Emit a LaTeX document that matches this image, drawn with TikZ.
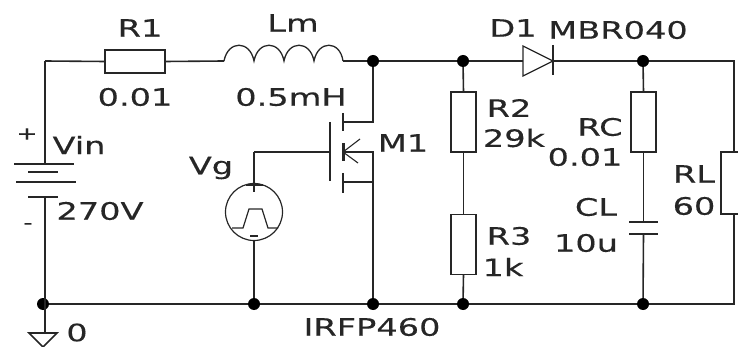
\documentclass[tikz,border=0pt]{standalone}
\usepackage{fontspec}
\setmainfont[FakeStretch=1.4,FakeBold=0.25]{DejaVu Sans}
\begin{document}
\begin{tikzpicture}[x=1pt,y=-1pt,line join=miter,
  wire/.style={draw=black!85,line width=1.6pt},
  part/.style={wire,rectangle,inner sep=0pt,outer sep=0pt,fill=white},
  hres/.style={part,minimum width=60pt,minimum height=23pt},
  vres/.style={part,minimum width=25pt,minimum height=60pt},
  dot/.style={circle,fill=black,inner sep=0pt,outer sep=0pt,minimum size=12pt},
  lab/.style={inner sep=0pt,outer sep=0pt,text=black!85,font=\fontsize{24}{24}\selectfont},
  small/.style={inner sep=0pt,outer sep=0pt,text=black!85,font=\fontsize{18}{18}\selectfont}]
\useasboundingbox (0,0) rectangle (738,347);
% anchors
\coordinate (tl) at (45,61);
\coordinate (tr) at (734,61);
\coordinate (br) at (734,304);
\node[dot] (jb1) at (43,304) {};
\node[dot] (jb2) at (254,304) {};
\node[dot] (jb3) at (373,304) {};
\node[dot] (jb4) at (463,304) {};
\node[dot] (jb5) at (643,304) {};
\node[dot] (jt1) at (373,61) {};
\node[dot] (jt2) at (463,61) {};
\node[dot] (jt3) at (643,61) {};
% resistors
\node[hres] (R1) at (135,61.5) {};
\node[vres] (R2) at (463.5,122) {};
\node[vres] (R3) at (463.5,244.5) {};
\node[vres] (RC) at (643.5,122) {};
% wires: top and bottom rails
\draw[wire] (tl) -- (R1.west);
\coordinate (Lin) at (224,61);
\coordinate (Lout) at (343,61);
\draw[wire] (R1.east) -- (Lin);
\draw[wire,line width=1.3pt] (Lin) .. controls (228,40) and (250,40) .. (254,61)
  .. controls (258,40) and (280,40) .. (284,61)
  .. controls (288,40) and (310,40) .. (314,61)
  .. controls (318,40) and (340,40) .. (343,61);
\draw[wire] (Lout) -- (jt1);
\draw[wire] (jt1) -- (jt2);
\coordinate (Da) at (523,61);
\coordinate (Dk) at (553,61);
\draw[wire] (jt2) -- (Da);
\draw[wire,line width=1.2pt] (Da) -- (523,46) -- (Dk) -- (523,76) -- cycle;
\draw[wire] (553,45) -- (553,75);
\draw[wire] (Dk) -- (jt3);
\draw[wire] (jt3) -- (tr) -- (734,152);
\draw[wire] (738,152) -- (721,152) -- (721,214) -- (738,214);
\draw[wire] (734,214) -- (br) -- (jb5);
\draw[wire] (jb1) -- (jb2);
\draw[wire] (jb2) -- (jb3);
\draw[wire] (jb3) -- (jb4);
\draw[wire] (jb4) -- (jb5);
% branches
\draw[wire] (jt2) -- (R2.north);
\draw[wire] (R2.south) -- (R3.north);
\draw[wire] (R3.south) -- (jb4);
\draw[wire] (jt3) -- (RC.north);
\coordinate (Cp) at (643.5,222);
\coordinate (Cn) at (643.5,234);
\draw[wire] (RC.south) -- (Cp);
\draw[wire] (629,222) -- (658,222);
\draw[wire] (629,234) -- (658,234);
\draw[wire] (Cn) -- (jb5);
% battery
\coordinate (Bp) at (45,164);
\coordinate (Bn) at (45,197);
\draw[wire] (tl) -- (Bp);
\draw[wire] (14,164) -- (74,164);
\draw[wire] (28,172) -- (58,172);
\draw[wire] (16,182) -- (76,182);
\draw[wire] (28,197) -- (58,197);
\draw[wire] (Bn) -- (45,304);
\node[small] (bplus) at (27,134) {+};
\node[small] (bminus) at (28,226) {-};
% ground
\coordinate (G) at (45,333);
\draw[wire] (45,304) -- (G);
\draw[wire] (29,333) -- (57,333) -- (43,347) -- cycle;
% MOSFET
\coordinate (Gate) at (330,152);
\coordinate (Vgt) at (254,152);
\draw[wire] (330,122) -- (330,181);
\draw[wire] (343,113) -- (343,131);
\draw[line width=3pt,black!85] (343,143) -- (343,161);
\draw[wire] (343,173) -- (343,193);
\draw[wire] (343,122) -- (373,122) -- (jt1);
\draw[wire] (343,152) -- (373,152) -- (373,182) -- (jb3);
\draw[wire] (343,182) -- (373,182);
\draw[line width=1.1pt,black!85] (360,139) -- (343,152) -- (358,163);
% Vg source
\node[circle,wire,line width=1.2pt,inner sep=0pt,outer sep=0pt,minimum size=57pt] (Vs) at (254,212) {};
\draw[wire] (Vs.south) -- (jb2);
\draw[wire] (Vgt) -- (Gate);
\draw[wire] (Vgt) -- (254,192);
\draw[line width=2.6pt,black!85] (246,185) -- (263,185);
\draw[line width=1.2pt,black!85] (232,228) -- (243,228) -- (249,209) -- (262,209) -- (268,228) -- (278,228);
\draw[line width=1.3pt,black!85] (250,236) -- (258,236);
% labels
\node[lab] (tR1) at (140,28) {R1};
\node[lab] (vR1) at (135,97) {0.01};
\node[lab] (tLm) at (293,23) {Lm};
\node[lab] (vLm) at (291,97) {0.5mH};
\node[lab] (tVin) at (79,145) {Vin};
\node[lab] (vVin) at (100,211) {270V};
\node[lab] (tVg) at (211,168) {Vg};
\node[lab] (tM1) at (403,143) {M1};
\node[lab] (vM1) at (372,327) {IRFP460};
\node[lab] (tD1) at (513,28) {D1};
\node[lab] (vD1) at (618,30) {MBR040};
\node[lab] (tR2) at (509,108) {R2};
\node[lab] (vR2) at (514,138) {29k};
\node[lab] (tRC) at (600,127) {RC};
\node[lab] (vRC) at (585,157) {0.01};
\node[lab] (tRL) at (694,174) {RL};
\node[lab] (vRL) at (694,206) {60};
\node[lab] (tCL) at (596,207) {CL};
\node[lab] (vCL) at (586,243) {10u};
\node[lab] (tR3) at (509,236) {R3};
\node[lab] (vR3) at (503,267) {1k};
\node[lab] (tG) at (77,332.5) {0};
\end{tikzpicture}
\end{document}
